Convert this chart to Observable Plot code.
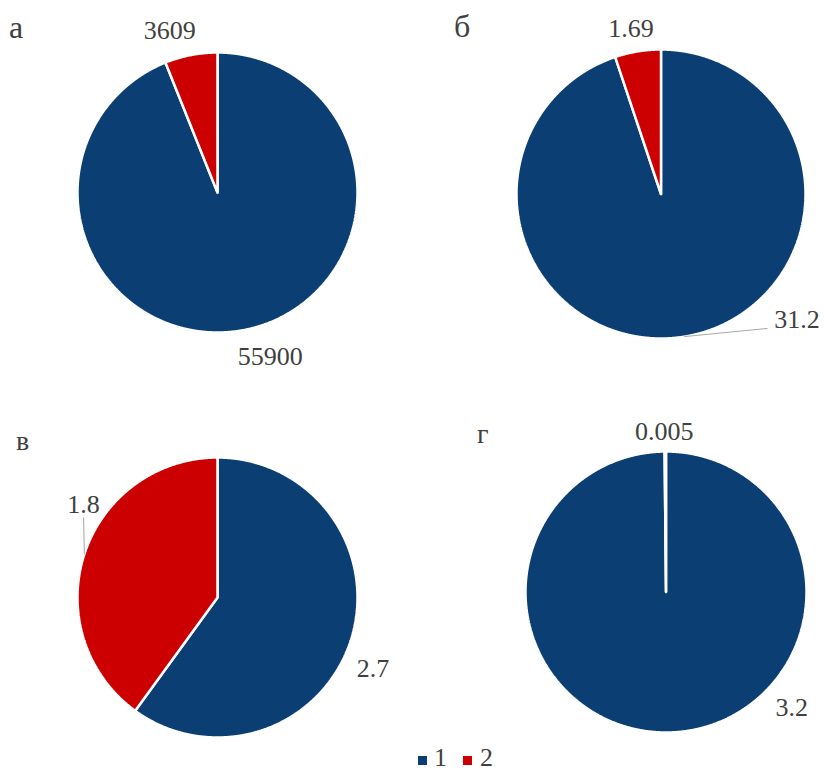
<!DOCTYPE html>
<html><head><meta charset="utf-8">
<script src="https://cdn.jsdelivr.net/npm/d3@7"></script>
<script src="https://cdn.jsdelivr.net/npm/@observablehq/plot@0.6"></script>
<style>
html,body{margin:0;padding:0;background:#fff;}
#chart{position:relative;width:824px;height:773px;font-family:"Liberation Serif","Times New Roman",serif;color:#404040;overflow:hidden;}
.panel{position:absolute;}
.panel text{font-family:"Liberation Serif","Times New Roman",serif !important;}
.txt{position:absolute;line-height:1;white-space:nowrap;}
.leg{position:absolute;line-height:20px;height:20px;white-space:nowrap;}
.sw{position:absolute;width:9px;height:9px;}
</style></head>
<body><div id="chart"></div>
<script>
// ---- data ----
const panelLetters = ["а", "б", "в", "г"];
const seriesNames = ["1", "2"];
const series1 = [55900, 31.2, 2.7, 3.2];
const series2 = [3609, 1.69, 1.8, 0.005];
const colors = ["#0b3f73", "#cc0000"];

// ---- layout (pixels) ----
const boxes = [
  {left: 0, top: 0, width: 412, height: 386},
  {left: 412, top: 0, width: 412, height: 386},
  {left: 0, top: 386, width: 412, height: 387},
  {left: 412, top: 386, width: 412, height: 387}
];
const centers = [[217, 192, 140], [660.5, 193.5, 144.5], [217, 597, 140], [665.5, 591.5, 140.5]];
const labelRadius = 1.16;
const nudges = [
  [[22, 4.5], [-17, -2.5]],
  [[109, -40], [-3, 0]],
  [[1, 21], [20.5, -43]],
  [[125, -47], [-1, 2.5]]
];
const leaders = [[null, null], [[-29.5, 9], null], [null, [0, 13]], [null, null]];
const letterLayout = [
  {left: 9, top: 11, size: 32},
  {left: 454, top: 10, size: 32},
  {left: 16, top: 426.5, size: 28},
  {left: 477, top: 419.5, size: 28}
];

const chart = document.getElementById("chart");
const font = "Liberation Serif, Times New Roman, serif";

panelLetters.forEach((letter, i) => {
  const rows = seriesNames.map((s, j) => ({series: s, value: [series1, series2][j][i]}));
  const arcs = d3.pie().sort(null).value(d => d.value)(rows);
  const [cx, cy, r] = centers[i];
  const b = boxes[i];

  const poly = [];
  const labels = [];
  const links = [];
  arcs.forEach((a, j) => {
    const s = a.data.series;
    poly.push({series: s, x: 0, y: 0});
    const n = Math.max(2, Math.ceil((a.endAngle - a.startAngle) / (Math.PI / 720)));
    for (let k = 0; k <= n; k++) {
      const t = a.startAngle + (a.endAngle - a.startAngle) * k / n;
      poly.push({series: s, x: Math.sin(t), y: Math.cos(t)});
    }
    poly.push({series: s, x: 0, y: 0});
    const m = (a.startAngle + a.endAngle) / 2;
    const [dx, dy] = nudges[i][j];
    const px = Math.sin(m) * r * labelRadius + dx;
    const py = -Math.cos(m) * r * labelRadius + dy;
    labels.push({x: px / r, y: -py / r, text: String(a.data.value)});
    const ld = leaders[i][j];
    if (ld) {
      links.push({x1: Math.sin(m), y1: Math.cos(m), x2: (px + ld[0]) / r, y2: -(py + ld[1]) / r});
    }
  });

  const svg = Plot.plot({
    width: b.width,
    height: b.height,
    margin: 0,
    x: {domain: [(b.left - cx) / r, (b.left + b.width - cx) / r], axis: null},
    y: {domain: [(cy - (b.top + b.height)) / r, (cy - b.top) / r], axis: null},
    color: {domain: seriesNames, range: colors},
    style: {background: "transparent", overflow: "visible", fontFamily: font},
    marks: [
      Plot.line(poly, {x: "x", y: "y", z: "series", fill: "series", stroke: "white", strokeWidth: 2.5, strokeLinejoin: "miter", curve: "linear"}),
      Plot.link(links, {x1: "x1", y1: "y1", x2: "x2", y2: "y2", stroke: "#a6a6a6", strokeWidth: 1}),
      Plot.text(labels, {x: "x", y: "y", text: "text", fontSize: 26, fill: "#404040", fontFamily: font})
    ]
  });
  svg.classList.add("panel");
  svg.style.left = b.left + "px";
  svg.style.top = b.top + "px";
  chart.appendChild(svg);

  const L = letterLayout[i];
  const d = document.createElement("div");
  d.className = "txt";
  d.textContent = letter;
  d.style.left = L.left + "px";
  d.style.top = L.top + "px";
  d.style.fontSize = L.size + "px";
  chart.appendChild(d);
});

// legend
const legendItems = [{sw: 418, tx: 434}, {sw: 463, tx: 480}];
seriesNames.forEach((s, j) => {
  const sq = document.createElement("div");
  sq.className = "sw";
  sq.style.left = legendItems[j].sw + "px";
  sq.style.top = "756px";
  sq.style.background = colors[j];
  chart.appendChild(sq);
  const t = document.createElement("div");
  t.className = "leg";
  t.textContent = s;
  t.style.left = legendItems[j].tx + "px";
  t.style.top = "748px";
  t.style.fontSize = "26px";
  chart.appendChild(t);
});
</script>
</body></html>
